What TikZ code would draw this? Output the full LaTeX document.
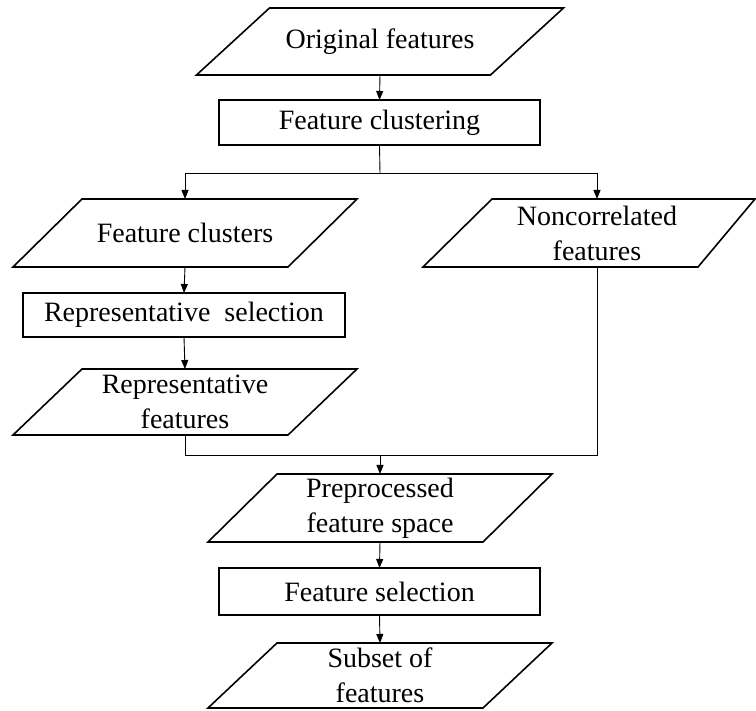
\documentclass[tikz,border=0pt]{standalone}
\usepackage{fontspec}
\setmainfont{Liberation Serif}
\usetikzlibrary{arrows.meta,calc}
\tikzset{
  shapeline/.style={line width=1.6pt, line join=miter},
  ptext/.style={inner sep=0pt, outer sep=0pt, align=center, font=\fontsize{28}{35}\selectfont},
  rbox/.style={ptext, draw, shapeline, minimum width=321pt, minimum height=45pt},
  arr/.style={line width=0.9pt, -{Triangle[length=9pt,width=7pt]}},
  conn/.style={line width=0.9pt}
}
% parallelogram drawn around an (undrawn) node: name, edge width
\newcommand\paradraw[2]{%
  \draw[shapeline] (#1.south west) -- ++(#2pt,0) -- (#1.north east) -- ++(-#2pt,0) -- cycle;}
\begin{document}
\begin{tikzpicture}[x=1pt,y=-1pt]
\useasboundingbox (0,0) rectangle (756,711);
% Original features
\node[ptext, minimum width=367pt, minimum height=67pt] (orig) at (380,41.5) {Original features};
\paradraw{orig}{294}
% Feature clustering
\node[rbox] (fc) at (379.5,122.5) {Feature clustering};
% Feature clusters
\node[ptext, minimum width=344pt, minimum height=68pt] (cl) at (185,233) {Feature clusters};
\paradraw{cl}{275}
% Noncorrelated features
\node[ptext, minimum width=100pt, minimum height=68pt] (nc) at (597,233) {Noncorrelated\\features};
\draw[shapeline] (423,267) -- (698,267) -- (755,199) -- (492,199) -- cycle;
% Representative selection
\node[rbox, minimum width=322pt, minimum height=44pt] (rs) at (184,315) {Representative\ \ selection};
% Representative features
\node[ptext, minimum width=344pt, minimum height=66pt] (rf) at (185,402) {Representative\\features};
\paradraw{rf}{275}
% Preprocessed feature space
\node[ptext, minimum width=344pt, minimum height=68pt] (pp) at (380,508) {Preprocessed\\feature space};
\paradraw{pp}{275}
% Feature selection
\node[rbox, minimum height=47pt] (fs) at (379.5,591.5) {Feature selection};
% Subset of features
\node[ptext, minimum width=344pt, minimum height=65pt] (sub) at (380,675.5) {Subset of\\features};
\paradraw{sub}{275}
% connectors
\coordinate (split) at (380,173);
\coordinate (join) at (380,455);
\draw[arr] (orig.south) -- (fc.north);
\draw[conn] (fc.south) -- (split);
\draw[arr] (split) -| (cl.north);
\draw[arr] (split) -| (nc.north);
\draw[arr] (cl.south) -- (rs.north);
\draw[arr] (rs.south) -- (rf.south |- rf.north);
\draw[conn] (rf.south) |- (join);
\draw[conn] (nc.south) |- (join);
\draw[arr] (join) -- (pp.north);
\draw[arr] (pp.south) -- (fs.north);
\draw[arr] (fs.south) -- (sub.north);
\end{tikzpicture}
\end{document}
